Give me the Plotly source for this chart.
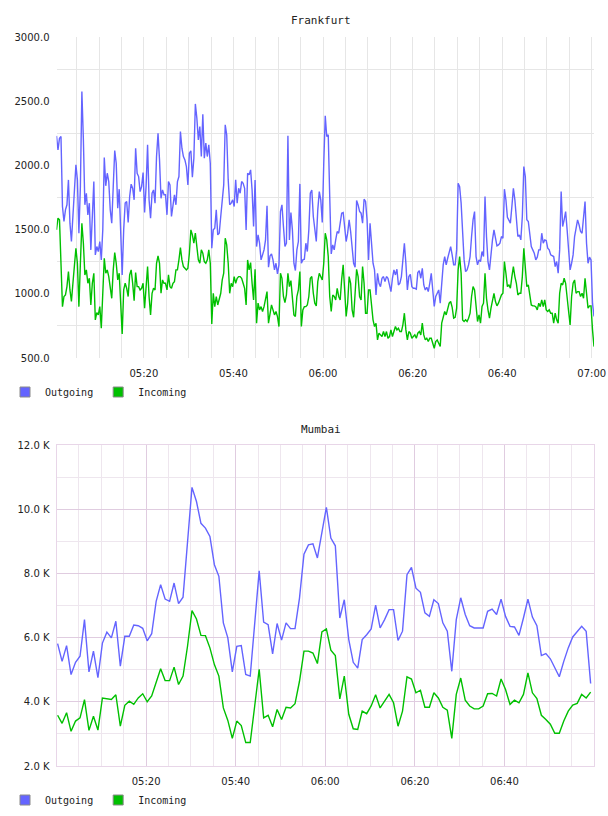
import pandas as pd
import plotly.graph_objects as go

# ---------------- data ----------------
FRA_START = "2024-01-01 05:00:30"   # Frankfurt sampled every 20 s
MUM_START = "2024-01-01 05:00:15"   # Mumbai sampled every minute

fra_out = [
    2230, 2121, 2212, 2225, 1680, 1563, 1654, 1693, 1887, 1550,
    1407, 1602, 1835, 2004, 1887, 1472, 1835, 2576, 2199, 1693,
    1783, 1615, 1706, 1342, 1602, 1874, 1303, 1368, 1329, 1407,
    1264, 1498, 2061, 1841, 1939, 1874, 1654, 1550, 1835, 2116,
    2017, 1667, 1815, 1446, 1147, 1498, 1706, 1719, 1555, 1758,
    1854, 1822, 1732, 2134, 1939, 1913, 1796, 1835, 1944, 1633,
    1835, 2160, 1732, 1589, 1783, 1809, 1706, 2069, 2251, 2043,
    1744, 1809, 1771, 1771, 1615, 1874, 1848, 1602, 1706, 1771,
    1693, 1874, 1913, 2264, 2134, 2069, 2043, 1991, 1848, 2095,
    2113, 1908, 2056, 2479, 2368, 2199, 2303, 2069, 2399, 2056,
    2173, 2069, 2160, 2017, 1355, 1498, 1511, 1654, 1459, 1472,
    1602, 1758, 1848, 2316, 2238, 1887, 1693, 1706, 1732, 1680,
    1887, 1706, 1822,
    1783, 1874, 1861, 1822, 1498, 1939, 1926, 1965, 1809, 1524,
    1887, 1368, 1459, 1394, 1264, 1303, 1342, 1420, 1685, 1207,
    1295, 1311, 1264, 1186, 1238, 1155, 1225, 1641, 1693, 1524,
    1368, 1394, 2230, 1420, 1633, 1498, 1238, 1181, 1342, 1407,
    1856, 1238, 1264, 1269, 1394, 1329, 1498, 1783, 1809, 1602,
    1498, 1407, 1654, 1796, 1732, 1555, 2017, 2386, 2225, 2238,
    1758, 1311, 1381, 1342, 1420, 1485, 1472, 1537, 1628, 1633,
    1498, 1407, 1472, 1576, 1485, 1342, 1238, 1207, 1726, 1693,
    1641, 1628, 1550, 1737, 1719, 1576, 1264, 1550, 1394, 1238,
    1186, 991, 1160, 1082, 1056, 1121, 1134, 1095, 1134, 1121,
    1069, 1017, 1121, 1186, 1147, 1191, 1069, 1082, 1134, 1238,
    1394, 1238, 1030, 1134, 1152, 1056, 1043, 1043,
    1036, 1165, 1181, 1121, 1199, 1069, 1030, 1051, 1017, 1082,
    1160, 1030, 901, 979, 1004, 1030, 927, 1082, 1225, 1290,
    1225, 1277, 1329, 1368, 1303, 1225, 1225, 1342, 1861, 1835,
    1706, 1459, 1264, 1173, 1186, 1225, 1290, 1446, 1576, 1641,
    1290, 1225, 1264, 1251, 1329, 1290, 1758, 1446, 1251, 1186,
    1342, 1420, 1498, 1420, 1373, 1381, 1394, 1446, 1433, 1815,
    1732, 1596, 1576, 1550, 1680, 1822, 1732, 1615, 1446, 1459,
    1420, 1602, 1991, 1913, 1576, 1563, 1459, 1368, 1342, 1316,
    1264, 1285, 1342, 1342, 1472, 1394, 1420, 1415, 1355, 1342,
    1303, 1298, 1290, 1212, 1251, 1160, 1342, 1796, 1524, 1576,
    1641, 1498, 1329, 1186, 1238, 1303, 1446, 1524, 1576, 1537,
    1485, 1472, 1589, 1719, 1394, 1238, 1285, 1264, 927, 823,
]

fra_in = [
    1498, 1589, 1576, 1186, 900, 979, 991, 1056, 1173, 1030,
    940, 1082, 1238, 1355, 1238, 900, 1238, 1550, 1394, 1147,
    1186, 1082, 1121, 913, 1082, 1160, 797, 854, 836, 900,
    732, 979, 1277, 1160, 1186, 1134, 1030, 965, 1186, 1321,
    1238, 1108, 1160, 927, 688, 1030, 1082, 1043, 979, 1147,
    1186, 1082, 947, 1165, 1056, 1056, 1030, 1043, 1082, 888,
    1056, 1212, 979, 836, 1004, 1043, 1030, 1238, 1295, 1238,
    1004, 1108, 1082, 1082, 1030, 1147, 1056, 1043, 1082, 1095,
    1186, 1186, 1264, 1360, 1264, 1212, 1199, 1186, 1199, 1316,
    1498, 1459, 1394, 1472, 1368, 1264, 1238, 1342, 1316, 1251,
    1238, 1264, 1342, 1238, 765, 1004, 900, 979, 913, 952,
    1004, 1108, 1160, 1433, 1381, 1238, 1004, 1082, 1056, 1134,
    1082, 1121, 1134,
    1134, 1121, 1082, 1043, 913, 1264, 1186, 1243, 1082, 952,
    1191, 771, 927, 875, 900, 862, 900, 952, 1017, 771,
    849, 913, 875, 836, 862, 823, 745, 1160, 1121, 979,
    932, 991, 1160, 1056, 1103, 991, 836, 823, 979, 1030,
    1173, 745, 875, 900, 900, 913, 979, 1121, 1134, 1004,
    927, 906, 1095, 1160, 1134, 1108, 1238, 1472, 1420, 1290,
    979, 862, 991, 979, 952, 1043, 979, 952, 1113, 1225,
    1030, 823, 927, 1134, 1082, 875, 817, 979, 1191, 1134,
    979, 952, 1212, 1082, 849, 849, 1030, 1030, 875, 797,
    745, 771, 641, 693, 680, 667, 706, 667, 706, 654,
    667, 719, 667, 706, 745, 719, 732, 706, 706, 758,
    849, 719, 641, 706, 693, 654, 667, 680,
    654, 693, 706, 680, 771, 680, 641, 654, 628, 654,
    654, 615, 576, 628, 641, 615, 589, 771, 823, 862,
    836, 888, 927, 940, 895, 810, 817, 888, 1186, 1290,
    1160, 797, 784, 797, 784, 810, 849, 979, 1056, 1030,
    888, 784, 836, 771, 901, 927, 1160, 965, 875, 810,
    888, 952, 1004, 940, 906, 927, 965, 991, 1004, 1251,
    1160, 1056, 1069, 1043, 1134, 1212, 1134, 1082, 991, 1004,
    1004, 1134, 1355, 1160, 1056, 1069, 1004, 913, 906, 906,
    900, 875, 927, 900, 952, 900, 952, 875, 862, 875,
    849, 849, 771, 849, 797, 771, 1004, 1082, 1069, 1121,
    1082, 991, 862, 758, 979, 1082, 1108, 1004, 1017, 1017,
    979, 1004, 965, 1121, 1004, 888, 906, 906, 719, 589,
]

# Mumbai values in thousands
mum_out = [
    5.81, 5.26, 5.75, 4.85, 5.23, 5.42, 6.56, 4.93, 5.58, 4.75,
    5.83, 6.17, 5.99, 6.51, 5.11, 6.04, 6.04, 6.39, 6.37, 6.29,
    5.90, 6.12, 7.13, 7.65, 7.20, 7.13, 7.70, 7.06, 7.26, 8.94,
    10.68, 10.24, 9.56, 9.41, 9.15, 8.27, 7.91, 6.46, 5.99, 4.93,
    5.73, 5.75, 4.85, 4.80, 6.35, 8.08, 6.48, 6.40, 5.49, 6.44,
    5.92, 6.46, 6.28, 6.28, 7.23, 8.60, 8.89, 8.92, 8.48, 9.25,
    10.06, 9.10, 8.86, 6.61, 7.18, 5.94, 5.23, 5.05, 5.94, 6.09,
    6.27, 7.01, 6.30, 6.56, 6.87, 6.87, 5.91, 6.20, 7.96, 8.19,
    7.54, 7.41, 6.77, 6.66, 7.18, 7.06, 6.46, 6.20, 4.95, 6.56,
    7.24, 6.72, 6.37, 6.30, 6.30, 6.30, 6.82, 6.89, 6.72, 7.20,
    6.66, 6.35, 6.33, 6.07, 6.61, 7.20, 6.64, 6.37, 5.44, 5.50,
    5.34, 5.08, 4.78, 5.26, 5.68, 6.02, 6.17, 6.35, 6.20, 4.57,
]
mum_in = [
    3.58, 3.33, 3.66, 3.08, 3.40, 3.50, 4.07, 3.11, 3.55, 3.12,
    4.12, 4.09, 4.07, 4.22, 3.24, 3.89, 4.02, 3.92, 4.12, 4.25,
    4.00, 4.18, 4.59, 5.03, 4.66, 4.66, 5.08, 4.54, 4.80, 5.73,
    6.84, 6.58, 6.07, 6.06, 5.68, 5.16, 4.80, 3.81, 3.42, 2.86,
    3.40, 3.26, 2.73, 2.73, 3.87, 5.01, 3.50, 3.58, 3.22, 3.76,
    3.45, 3.83, 3.81, 3.94, 4.64, 5.58, 5.58, 5.52, 5.19, 6.18,
    6.27, 5.61, 5.44, 4.09, 4.80, 3.61, 3.16, 3.14, 3.71, 3.63,
    3.87, 4.22, 3.81, 4.02, 4.23, 3.97, 3.24, 3.71, 4.78, 4.71,
    4.28, 4.36, 3.83, 3.83, 4.28, 4.12, 3.83, 3.74, 2.86, 4.23,
    4.74, 4.05, 3.87, 3.78, 3.78, 3.87, 4.25, 4.26, 4.18, 4.71,
    4.38, 3.92, 4.05, 3.97, 4.23, 4.90, 4.28, 4.10, 3.58, 3.45,
    3.30, 3.02, 3.02, 3.40, 3.71, 3.90, 3.95, 4.23, 4.12, 4.30,
]

fra_yticks = [500, 1000, 1500, 2000, 2500, 3000]
fra_ytext = ["500.0", "1000.0", "1500.0", "2000.0", "2500.0", "3000.0"]
mum_yticks = [2, 4, 6, 8, 10, 12]
mum_ytext = ["2.0 K", "4.0 K", "6.0 K", "8.0 K", "10.0 K", "12.0 K"]
fra_xticks = ["2024-01-01 05:20", "2024-01-01 05:40", "2024-01-01 06:00",
              "2024-01-01 06:20", "2024-01-01 06:40", "2024-01-01 07:00"]
mum_xticks = fra_xticks[:5]

# ---------------- figure ----------------
fra_t = pd.date_range(FRA_START, periods=len(fra_out), freq="20s")
mum_t = pd.date_range(MUM_START, periods=len(mum_out), freq="60s")

W, H = 608, 816
def fx(p):
    return p / W
def fy(p):
    return 1 - p / H

BLUE = "#6464ff"
GREEN = "#00c000"
GRID_F = "#e6e6e6"
GRID_M_MAJ = "#e0cce0"
GRID_M_MIN = "#eee6ee"
BORDER_M = "#e8d6e8"
TXT = "#222222"
TICKFONT = dict(family="DejaVu Sans", size=10, color=TXT)
MONO = "DejaVu Sans Mono"

fig = go.Figure()
line_kw = dict(mode="lines", showlegend=False, hoverinfo="skip")
fig.add_trace(go.Scatter(x=fra_t, y=fra_out, line=dict(color=BLUE, width=1.4),
                         xaxis="x", yaxis="y", **line_kw))
fig.add_trace(go.Scatter(x=fra_t, y=fra_in, line=dict(color=GREEN, width=1.4),
                         xaxis="x", yaxis="y", **line_kw))
fig.add_trace(go.Scatter(x=mum_t, y=mum_out, line=dict(color=BLUE, width=1.4),
                         xaxis="x2", yaxis="y2", **line_kw))
fig.add_trace(go.Scatter(x=mum_t, y=mum_in, line=dict(color=GREEN, width=1.4),
                         xaxis="x2", yaxis="y2", **line_kw))

# legend swatches (square)
for name, col in (("Outgoing", BLUE), ("Incoming", GREEN)):
    for leg, xa, ya in (("legend", "x", "y"), ("legend2", "x2", "y2")):
        fig.add_trace(go.Scatter(
            x=[None], y=[None], mode="markers", name=name, legend=leg,
            xaxis=xa, yaxis=ya,
            marker=dict(symbol="square", size=10, color=col,
                        line=dict(color="#8a8a8a", width=1))))

def legend_cfg(ypx):
    return dict(orientation="h", x=fx(5), y=fy(ypx), xanchor="left",
                yanchor="middle", font=dict(family=MONO, size=10, color=TXT),
                bgcolor="rgba(0,0,0,0)", itemwidth=30,
                itemclick=False, itemdoubleclick=False)

xcommon = dict(type="date", tickformat="%H:%M", tickfont=TICKFONT,
               ticks="outside", ticklen=6, tickcolor="rgba(0,0,0,0)",
               zeroline=False, showgrid=True, automargin=False)
ycommon = dict(tickfont=TICKFONT, ticks="outside", ticklen=4,
               tickcolor="rgba(0,0,0,0)", zeroline=False, automargin=False)

fig.update_layout(
    width=W, height=H, autosize=False,
    margin=dict(l=0, r=0, t=0, b=0, pad=0),
    paper_bgcolor="white", plot_bgcolor="white",
    xaxis=dict(domain=[fx(56.5), fx(594)], anchor="y",
               range=["2024-01-01 05:00:30", "2024-01-01 07:00:30"],
               tickmode="array", tickvals=fra_xticks, gridcolor=GRID_F,
               minor=dict(dtick=300000, tick0="2024-01-01 05:00",
                          showgrid=True, gridcolor=GRID_F),
               **xcommon),
    yaxis=dict(domain=[fy(358), fy(37)], anchor="x", range=[500, 3000],
               tickmode="array", tickvals=fra_yticks, ticktext=fra_ytext,
               showgrid=False,
               minor=dict(tick0=750, dtick=500, showgrid=True, gridcolor=GRID_F),
               **ycommon),
    xaxis2=dict(domain=[fx(56.5), fx(594)], anchor="y2",
                range=["2024-01-01 05:00", "2024-01-01 07:00"],
                tickmode="array", tickvals=mum_xticks, gridcolor=GRID_M_MAJ,
                minor=dict(dtick=300000, tick0="2024-01-01 05:00",
                           showgrid=True, gridcolor=GRID_M_MIN),
                showline=True, mirror=True, linecolor=BORDER_M, linewidth=1,
                **xcommon),
    yaxis2=dict(domain=[fy(766), fy(445)], anchor="x2", range=[2, 12],
                tickmode="array", tickvals=mum_yticks, ticktext=mum_ytext,
                showgrid=True, gridcolor=GRID_M_MAJ,
                minor=dict(dtick=1, showgrid=True, gridcolor=GRID_M_MIN),
                showline=True, mirror=True, linecolor=BORDER_M, linewidth=1,
                **ycommon),
    legend=legend_cfg(392),
    legend2=legend_cfg(800),
    annotations=[
        dict(text="Frankfurt", x=fx(321), y=fy(20), xref="paper", yref="paper",
             showarrow=False, xanchor="center", yanchor="middle",
             font=dict(family=MONO, size=11, color=TXT)),
        dict(text="Mumbai", x=fx(321), y=fy(429), xref="paper", yref="paper",
             showarrow=False, xanchor="center", yanchor="middle",
             font=dict(family=MONO, size=11, color=TXT)),
    ],
)

fig.write_html("out.html")
